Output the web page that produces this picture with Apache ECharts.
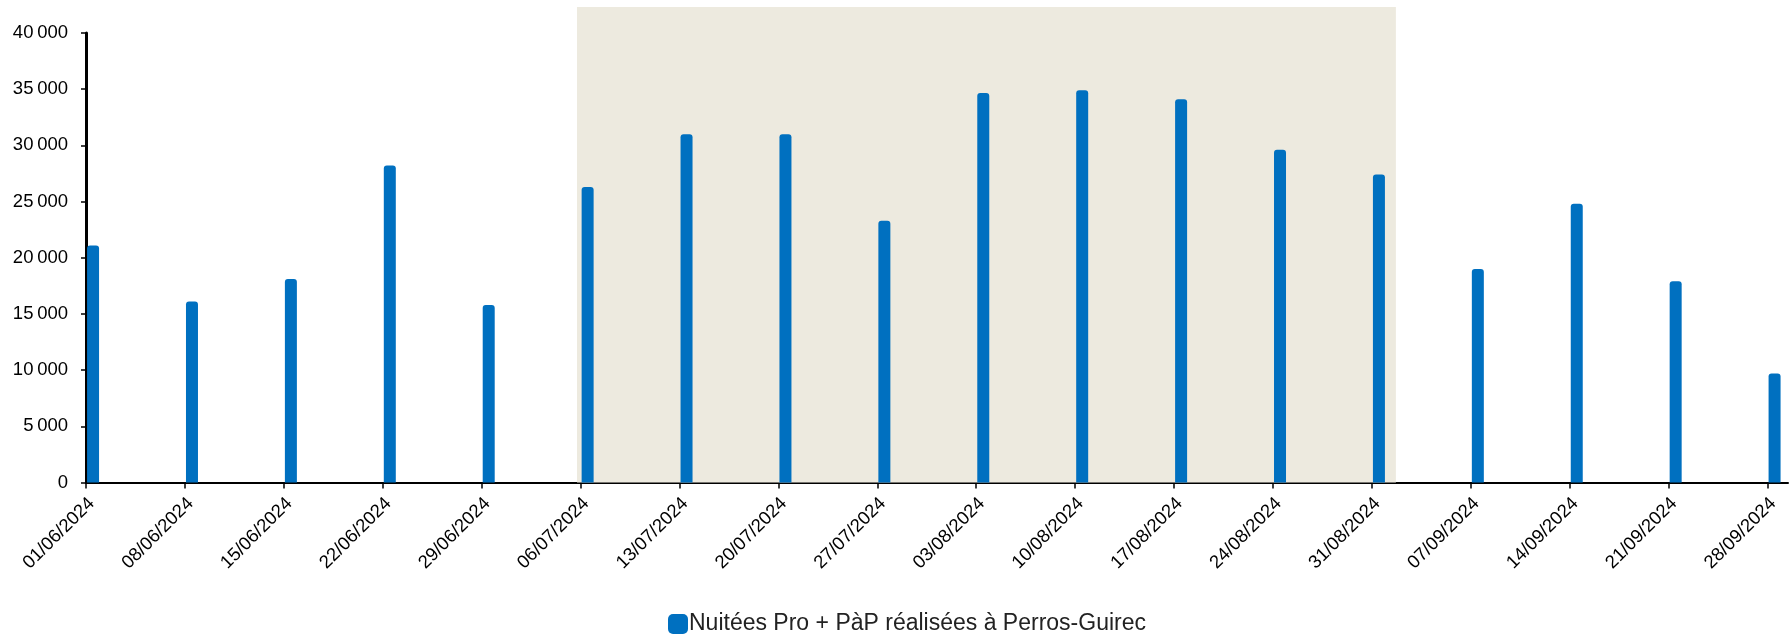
<!DOCTYPE html>
<html>
<head>
<meta charset="utf-8">
<script src="https://cdn.jsdelivr.net/npm/echarts@6/dist/echarts.min.js"></script>
<style>
html,body{margin:0;padding:0;background:#fff;}
#chart{width:1790px;height:641px;}
</style>
</head>
<body>
<div id="chart"></div>
<script>
// ---- data ----
const categories = ['01/06/2024','08/06/2024','15/06/2024','22/06/2024','29/06/2024','06/07/2024','13/07/2024','20/07/2024','27/07/2024','03/08/2024','10/08/2024','17/08/2024','24/08/2024','31/08/2024','07/09/2024','14/09/2024','21/09/2024','28/09/2024'];
const nuitees = [21100,16100,18100,28200,15800,26300,31000,31000,23300,34650,34900,34100,29600,27400,19000,24800,17900,9700];
const seriesName = 'Nuitées Pro + PàP réalisées à Perros-Guirec';
// high-season shading, in days since 01/06/2024
const seasonStart = 34.75;
const seasonEnd = 92.7;

const X_MAX = 120.45;          // axis span in days
const LABEL_SHIFT = 0.4;       // label anchor offset (days) to sit like the original

function dayOf(s){
  const [d,m,y] = s.split('/').map(Number);
  return Math.round((Date.UTC(y,m-1,d) - Date.UTC(2024,5,1)) / 86400000);
}
const tickDays = categories.map(dayOf);
const barData = categories.map((c,i)=>[dayOf(c)+0.5, nuitees[i]]);
const fmtY = v => v >= 1000 ? Math.floor(v/1000) + '\u202f' + String(v%1000).padStart(3,'0') : String(v);
const FONT = 'Liberation Sans';

const chart = echarts.init(document.getElementById('chart'), null, {renderer:'canvas'});
chart.setOption({
  animation:false,
  textStyle:{fontFamily:FONT},
  grid:[
    {left:86, right:2, top:33, bottom:158.5, containLabel:false},
    {left:86, right:2, top:7, bottom:158.5, containLabel:false}
  ],
  legend:{
    data:[seriesName],
    left:668, top:612, padding:0,
    itemWidth:20, itemHeight:20, itemGap:8,
    icon:'roundRect',
    textStyle:{fontSize:23, lineHeight:24, color:'#222', fontFamily:FONT, padding:[0,0,0,-4]}
  },
  xAxis:[
    {
      type:'value', gridIndex:0, min:0, max:X_MAX,
      splitLine:{show:false},
      axisLine:{show:true, onZero:false, lineStyle:{color:'#000', width:2}},
      axisTick:{show:true, customValues:tickDays, length:6, lineStyle:{color:'#000', width:1.5}},
      axisLabel:{show:false}
    },
    {type:'value', gridIndex:1, min:0, max:X_MAX, show:false},
    {
      type:'value', gridIndex:0, position:'bottom', min:-LABEL_SHIFT, max:X_MAX-LABEL_SHIFT,
      splitLine:{show:false}, axisLine:{show:false}, axisTick:{show:false},
      axisLabel:{
        customValues:tickDays, rotate:45, fontSize:18.5, color:'#000', margin:18,
        formatter: v => categories[tickDays.indexOf(Math.round(v))] || ''
      }
    }
  ],
  yAxis:[
    {
      type:'value', gridIndex:0, min:0, max:40000, interval:5000,
      splitLine:{show:false},
      axisLine:{show:true, lineStyle:{color:'#000', width:3}},
      axisTick:{show:true, length:5, lineStyle:{color:'#000', width:1.5}},
      axisLabel:{fontSize:18.5, color:'#000', margin:18, formatter: fmtY}
    },
    {type:'value', gridIndex:1, min:0, max:1, show:false}
  ],
  series:[
    {
      type:'line', xAxisIndex:1, yAxisIndex:1, data:[[seasonStart,0]],
      symbol:'none', silent:true, z:0, lineStyle:{opacity:0},
      markArea:{silent:true, itemStyle:{color:'#EDEADF'},
        data:[[{xAxis:seasonStart, yAxis:0},{xAxis:seasonEnd, yAxis:1}]]}
    },
    {
      name:seriesName, type:'bar', xAxisIndex:0, yAxisIndex:0,
      data:barData, barWidth:12, z:3,
      itemStyle:{color:'#0070C0', borderRadius:[3,3,0,0]}
    }
  ]
});
</script>
</body>
</html>
